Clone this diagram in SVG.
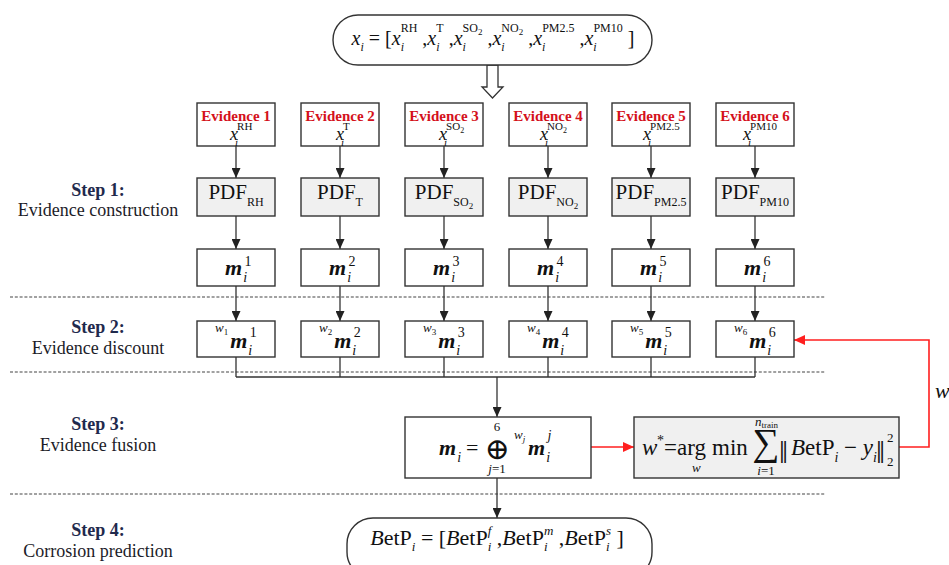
<svg xmlns="http://www.w3.org/2000/svg" width="949" height="565" viewBox="0 0 949 565">
<style>
.t{font-family:"Liberation Serif","DejaVu Serif",serif;fill:#111}
.it{font-style:italic}
.b{font-weight:bold}
.bi{font-weight:bold;font-style:italic}
.box{fill:#fff;stroke:#333;stroke-width:1.4}
.gbox{fill:#f0f0f0;stroke:#333;stroke-width:1.4}
.ln{fill:none;stroke:#333;stroke-width:1.3}
.red{fill:none;stroke:#ff1f1f;stroke-width:1.6}
.dash{stroke:#444;stroke-width:1.2;stroke-dasharray:3,1.8}
.ev{font-family:"Liberation Serif","DejaVu Serif",serif;font-weight:bold;font-size:15px;fill:#d4111b}
.step{font-family:"Liberation Serif","DejaVu Serif",serif;font-weight:bold;font-size:18px;fill:#1f2a4d}
.desc{font-family:"Liberation Serif","DejaVu Serif",serif;font-size:18px;fill:#1c1c28}
</style>
<defs>
<marker id="ah" viewBox="0 0 10 9" refX="10" refY="4.5" markerWidth="10" markerHeight="9" markerUnits="userSpaceOnUse" orient="auto"><path d="M0,0 L10,4.5 L0,9 z" fill="#222"/></marker>
<marker id="ahr" viewBox="0 0 11 10" refX="11" refY="5" markerWidth="11" markerHeight="10" markerUnits="userSpaceOnUse" orient="auto"><path d="M0,0 L11,5 L0,10 z" fill="#ff1f1f"/></marker>
</defs>
<rect width="949" height="565" fill="#fff"/>

<!-- step labels -->
<g id="steps">
<text class="step" x="98" y="196" text-anchor="middle">Step 1:</text>
<text class="desc" x="98" y="216" text-anchor="middle">Evidence construction</text>
<text class="step" x="98" y="333" text-anchor="middle">Step 2:</text>
<text class="desc" x="98" y="354" text-anchor="middle">Evidence discount</text>
<text class="step" x="98" y="430" text-anchor="middle">Step 3:</text>
<text class="desc" x="98" y="451" text-anchor="middle">Evidence fusion</text>
<text class="step" x="98" y="536" text-anchor="middle">Step 4:</text>
<text class="desc" x="98" y="557" text-anchor="middle">Corrosion prediction</text>
</g>

<!-- dashed separators -->
<g id="separators">
<line class="dash" x1="10" y1="297" x2="825" y2="297"/>
<line class="dash" x1="10" y1="372" x2="825" y2="372"/>
<line class="dash" x1="10" y1="494" x2="825" y2="494"/>
</g>

<!-- connectors -->
<g id="connectors">
<polygon points="487,65 498,65 498,87 503,87 492.5,98 482,87 487,87" fill="#fff" stroke="#333" stroke-width="1.3"/>
<line class="ln" x1="236" y1="146" x2="236" y2="178" marker-end="url(#ah)"/>
<line class="ln" x1="340" y1="146" x2="340" y2="178" marker-end="url(#ah)"/>
<line class="ln" x1="444" y1="146" x2="444" y2="178" marker-end="url(#ah)"/>
<line class="ln" x1="548" y1="146" x2="548" y2="178" marker-end="url(#ah)"/>
<line class="ln" x1="651" y1="146" x2="651" y2="178" marker-end="url(#ah)"/>
<line class="ln" x1="755" y1="146" x2="755" y2="178" marker-end="url(#ah)"/>
<line class="ln" x1="236" y1="216" x2="236" y2="249" marker-end="url(#ah)"/>
<line class="ln" x1="340" y1="216" x2="340" y2="249" marker-end="url(#ah)"/>
<line class="ln" x1="444" y1="216" x2="444" y2="249" marker-end="url(#ah)"/>
<line class="ln" x1="548" y1="216" x2="548" y2="249" marker-end="url(#ah)"/>
<line class="ln" x1="651" y1="216" x2="651" y2="249" marker-end="url(#ah)"/>
<line class="ln" x1="755" y1="216" x2="755" y2="249" marker-end="url(#ah)"/>
<line class="ln" x1="236" y1="286" x2="236" y2="321" marker-end="url(#ah)"/>
<line class="ln" x1="340" y1="286" x2="340" y2="321" marker-end="url(#ah)"/>
<line class="ln" x1="444" y1="286" x2="444" y2="321" marker-end="url(#ah)"/>
<line class="ln" x1="548" y1="286" x2="548" y2="321" marker-end="url(#ah)"/>
<line class="ln" x1="651" y1="286" x2="651" y2="321" marker-end="url(#ah)"/>
<line class="ln" x1="755" y1="286" x2="755" y2="321" marker-end="url(#ah)"/>
<path class="ln" d="M236,357 V377 M340,357 V377 M444,357 V377 M548,357 V377 M651,357 V377 M755,357 V377 M236,377 H755"/>
<line class="ln" x1="497" y1="377" x2="497" y2="417" marker-end="url(#ah)"/>
<line class="ln" x1="497" y1="478" x2="497" y2="518" marker-end="url(#ah)"/>
<line class="red" x1="591" y1="447" x2="634" y2="447" marker-end="url(#ahr)"/>
<polyline class="red" points="899,447 929,447 929,340 794,340" marker-end="url(#ahr)"/>
<text class="t it" x="935" y="398" font-size="22">w</text>
</g>

<!-- input -->
<g id="input">
<rect class="box" x="333" y="15" width="319" height="50" rx="25"/>
<text class="t" x="493" y="45" text-anchor="middle" font-size="20"><tspan class="it">x</tspan><tspan class="it" dy="6" font-size="12">i</tspan><tspan dy="-6"> = [</tspan><tspan class="it">x</tspan><tspan class="it" dy="6" font-size="12">i</tspan><tspan dy="-19" dx="-3.3" font-size="12">RH</tspan><tspan dy="13"> ,</tspan><tspan class="it">x</tspan><tspan class="it" dy="6" font-size="12">i</tspan><tspan dy="-19" dx="-3.3" font-size="12">T</tspan><tspan dy="13"> ,</tspan><tspan class="it">x</tspan><tspan class="it" dy="6" font-size="12">i</tspan><tspan dy="-19" dx="-3.3" font-size="12">SO</tspan><tspan dy="3" font-size="9">2</tspan><tspan dy="10"> ,</tspan><tspan class="it">x</tspan><tspan class="it" dy="6" font-size="12">i</tspan><tspan dy="-19" dx="-3.3" font-size="12">NO</tspan><tspan dy="3" font-size="9">2</tspan><tspan dy="10"> ,</tspan><tspan class="it">x</tspan><tspan class="it" dy="6" font-size="12">i</tspan><tspan dy="-19" dx="-3.3" font-size="12">PM2.5</tspan><tspan dy="13"> ,</tspan><tspan class="it">x</tspan><tspan class="it" dy="6" font-size="12">i</tspan><tspan dy="-19" dx="-3.3" font-size="12">PM10</tspan><tspan dy="13"> ]</tspan></text>
</g>

<!-- evidence nodes -->
<g id="ev1"><rect class="box" x="197" y="103" width="78" height="43"/><text class="ev" x="236" y="121" text-anchor="middle">Evidence 1</text><text class="t" x="230" y="140" font-size="18"><tspan class="it">x</tspan><tspan class="it" y="146" dx="-3" font-size="11">i</tspan><tspan y="130" dx="-1" font-size="11">RH</tspan></text></g>
<g id="ev2"><rect class="box" x="301" y="103" width="78" height="43"/><text class="ev" x="340" y="121" text-anchor="middle">Evidence 2</text><text class="t" x="336" y="140" font-size="18"><tspan class="it">x</tspan><tspan class="it" y="146" dx="-3" font-size="11">i</tspan><tspan y="130" dx="-1" font-size="11">T</tspan></text></g>
<g id="ev3"><rect class="box" x="405" y="103" width="78" height="43"/><text class="ev" x="444" y="121" text-anchor="middle">Evidence 3</text><text class="t" x="439" y="140" font-size="18"><tspan class="it">x</tspan><tspan class="it" y="146" dx="-3" font-size="11">i</tspan><tspan y="130" dx="-1" font-size="11">SO</tspan><tspan y="133" font-size="8">2</tspan></text></g>
<g id="ev4"><rect class="box" x="509" y="103" width="78" height="43"/><text class="ev" x="548" y="121" text-anchor="middle">Evidence 4</text><text class="t" x="540" y="140" font-size="18"><tspan class="it">x</tspan><tspan class="it" y="146" dx="-3" font-size="11">i</tspan><tspan y="130" dx="-1" font-size="11">NO</tspan><tspan y="133" font-size="8">2</tspan></text></g>
<g id="ev5"><rect class="box" x="612" y="103" width="78" height="43"/><text class="ev" x="651" y="121" text-anchor="middle">Evidence 5</text><text class="t" x="643" y="140" font-size="18"><tspan class="it">x</tspan><tspan class="it" y="146" dx="-3" font-size="11">i</tspan><tspan y="130" dx="-1" font-size="11">PM2.5</tspan></text></g>
<g id="ev6"><rect class="box" x="716" y="103" width="78" height="43"/><text class="ev" x="755" y="121" text-anchor="middle">Evidence 6</text><text class="t" x="743" y="140" font-size="18"><tspan class="it">x</tspan><tspan class="it" y="146" dx="-3" font-size="11">i</tspan><tspan y="130" dx="-1" font-size="11">PM10</tspan></text></g>

<!-- PDF nodes -->
<g id="pdf1"><rect class="gbox" x="197" y="178" width="78" height="38"/><text class="t" x="236" y="199" text-anchor="middle" font-size="21">PDF<tspan dy="7" font-size="12">RH</tspan></text></g>
<g id="pdf2"><rect class="gbox" x="301" y="178" width="78" height="38"/><text class="t" x="340" y="199" text-anchor="middle" font-size="21">PDF<tspan dy="7" font-size="12">T</tspan></text></g>
<g id="pdf3"><rect class="gbox" x="405" y="178" width="78" height="38"/><text class="t" x="444" y="199" text-anchor="middle" font-size="21">PDF<tspan dy="7" font-size="12">SO</tspan><tspan dy="3" font-size="9">2</tspan></text></g>
<g id="pdf4"><rect class="gbox" x="509" y="178" width="78" height="38"/><text class="t" x="548" y="199" text-anchor="middle" font-size="21">PDF<tspan dy="7" font-size="12">NO</tspan><tspan dy="3" font-size="9">2</tspan></text></g>
<g id="pdf5"><rect class="gbox" x="612" y="178" width="78" height="38"/><text class="t" x="651" y="199" text-anchor="middle" font-size="21">PDF<tspan dy="7" font-size="12">PM2.5</tspan></text></g>
<g id="pdf6"><rect class="gbox" x="716" y="178" width="78" height="38"/><text class="t" x="755" y="199" text-anchor="middle" font-size="21">PDF<tspan dy="7" font-size="12">PM10</tspan></text></g>

<!-- mass nodes -->
<g id="m1"><rect class="box" x="197" y="249" width="78" height="37"/><text class="t" x="225" y="275" font-size="22"><tspan class="bi">m</tspan><tspan class="it" y="282" dx="1" font-size="14">i</tspan><tspan y="266" dx="-2.5" font-size="14">1</tspan></text></g>
<g id="m2"><rect class="box" x="301" y="249" width="78" height="37"/><text class="t" x="329" y="275" font-size="22"><tspan class="bi">m</tspan><tspan class="it" y="282" dx="1" font-size="14">i</tspan><tspan y="266" dx="-2.5" font-size="14">2</tspan></text></g>
<g id="m3"><rect class="box" x="405" y="249" width="78" height="37"/><text class="t" x="433" y="275" font-size="22"><tspan class="bi">m</tspan><tspan class="it" y="282" dx="1" font-size="14">i</tspan><tspan y="266" dx="-2.5" font-size="14">3</tspan></text></g>
<g id="m4"><rect class="box" x="509" y="249" width="78" height="37"/><text class="t" x="537" y="275" font-size="22"><tspan class="bi">m</tspan><tspan class="it" y="282" dx="1" font-size="14">i</tspan><tspan y="266" dx="-2.5" font-size="14">4</tspan></text></g>
<g id="m5"><rect class="box" x="612" y="249" width="78" height="37"/><text class="t" x="640" y="275" font-size="22"><tspan class="bi">m</tspan><tspan class="it" y="282" dx="1" font-size="14">i</tspan><tspan y="266" dx="-2.5" font-size="14">5</tspan></text></g>
<g id="m6"><rect class="box" x="716" y="249" width="78" height="37"/><text class="t" x="744" y="275" font-size="22"><tspan class="bi">m</tspan><tspan class="it" y="282" dx="1" font-size="14">i</tspan><tspan y="266" dx="-2.5" font-size="14">6</tspan></text></g>

<!-- discounted nodes -->
<g id="d1"><rect class="box" x="197" y="321" width="78" height="36"/><text class="t" x="215" y="332" font-size="13"><tspan class="it">w</tspan><tspan y="335" font-size="9">1</tspan><tspan class="bi" y="348" dx="2" font-size="22">m</tspan><tspan class="it" y="355" dx="1" font-size="14">i</tspan><tspan y="337" dx="-2.5" font-size="14">1</tspan></text></g>
<g id="d2"><rect class="box" x="301" y="321" width="78" height="36"/><text class="t" x="319" y="332" font-size="13"><tspan class="it">w</tspan><tspan y="335" font-size="9">2</tspan><tspan class="bi" y="348" dx="2" font-size="22">m</tspan><tspan class="it" y="355" dx="1" font-size="14">i</tspan><tspan y="337" dx="-2.5" font-size="14">2</tspan></text></g>
<g id="d3"><rect class="box" x="405" y="321" width="78" height="36"/><text class="t" x="423" y="332" font-size="13"><tspan class="it">w</tspan><tspan y="335" font-size="9">3</tspan><tspan class="bi" y="348" dx="2" font-size="22">m</tspan><tspan class="it" y="355" dx="1" font-size="14">i</tspan><tspan y="337" dx="-2.5" font-size="14">3</tspan></text></g>
<g id="d4"><rect class="box" x="509" y="321" width="78" height="36"/><text class="t" x="527" y="332" font-size="13"><tspan class="it">w</tspan><tspan y="335" font-size="9">4</tspan><tspan class="bi" y="348" dx="2" font-size="22">m</tspan><tspan class="it" y="355" dx="1" font-size="14">i</tspan><tspan y="337" dx="-2.5" font-size="14">4</tspan></text></g>
<g id="d5"><rect class="box" x="612" y="321" width="78" height="36"/><text class="t" x="630" y="332" font-size="13"><tspan class="it">w</tspan><tspan y="335" font-size="9">5</tspan><tspan class="bi" y="348" dx="2" font-size="22">m</tspan><tspan class="it" y="355" dx="1" font-size="14">i</tspan><tspan y="337" dx="-2.5" font-size="14">5</tspan></text></g>
<g id="d6"><rect class="box" x="716" y="321" width="78" height="36"/><text class="t" x="734" y="332" font-size="13"><tspan class="it">w</tspan><tspan y="335" font-size="9">6</tspan><tspan class="bi" y="348" dx="2" font-size="22">m</tspan><tspan class="it" y="355" dx="1" font-size="14">i</tspan><tspan y="337" dx="-2.5" font-size="14">6</tspan></text></g>

<!-- fusion node -->
<g id="fusion">
<rect class="box" x="405" y="417" width="186" height="61"/>
<text class="t" x="439" y="455" font-size="22"><tspan class="bi">m</tspan><tspan class="it" y="462" dx="1" font-size="14">i</tspan><tspan y="455" dx="5">=</tspan></text>
<text class="t" x="497" y="459" text-anchor="middle" font-size="30" font-family="DejaVu Serif, serif">⊕</text>
<text class="t" x="497" y="431" text-anchor="middle" font-size="13">6</text>
<text class="t" x="497" y="473" text-anchor="middle" font-size="13"><tspan class="it">j</tspan>=1</text>
<text class="t" x="514" y="439" font-size="13"><tspan class="it">w</tspan><tspan class="it" y="442" font-size="9">j</tspan></text>
<text class="t" x="528" y="455" font-size="22"><tspan class="bi">m</tspan><tspan class="it" y="462" dx="1" font-size="14">i</tspan><tspan class="it" y="440" dx="-2.5" font-size="14">j</tspan></text>
</g>

<!-- optimisation node -->
<g id="optim">
<rect class="gbox" x="634" y="417" width="265" height="61"/>
<text class="t it" x="642" y="455" font-size="23">w</text>
<text class="t" x="657" y="445" font-size="14">*</text>
<text class="t" x="664" y="455" font-size="23">=</text>
<text class="t" x="677" y="455" font-size="23">arg</text>
<text class="t it" x="692" y="472" font-size="13">w</text>
<text class="t" x="712" y="455" font-size="23">min</text>
<text class="t" x="766" y="455" text-anchor="middle" font-size="38">∑</text>
<text class="t" x="755" y="426" font-size="13"><tspan class="it">n</tspan><tspan y="428" font-size="9">train</tspan></text>
<text class="t" x="766" y="475" text-anchor="middle" font-size="13"><tspan class="it">i</tspan>=1</text>
<text class="t" x="779" y="463" font-size="32" font-family="DejaVu Serif, serif">‖</text>
<text class="t" x="791" y="455" font-size="23"><tspan class="it">B</tspan>etP<tspan class="it" y="462" font-size="14">i</tspan><tspan y="455"> − </tspan><tspan class="it">y</tspan><tspan class="it" y="462" font-size="14">i</tspan></text>
<text class="t" x="876" y="463" font-size="32" font-family="DejaVu Serif, serif">‖</text>
<text class="t" x="887" y="442" font-size="13">2</text>
<text class="t" x="887" y="466" font-size="13">2</text>
</g>

<!-- output -->
<g id="output">
<rect class="box" x="347" y="518" width="305" height="60" rx="26"/>
<text class="t" x="497" y="545" text-anchor="middle" font-size="22"><tspan class="it">B</tspan>etP<tspan class="it" dy="6" font-size="13">i</tspan><tspan dy="-6"> = [</tspan><tspan class="it">B</tspan>etP<tspan class="it" dy="6" font-size="13">i</tspan><tspan class="it" dy="-16" dx="-3.6" font-size="13">f</tspan><tspan dy="10"> ,</tspan><tspan class="it">B</tspan>etP<tspan class="it" dy="6" font-size="13">i</tspan><tspan class="it" dy="-16" dx="-3.6" font-size="13">m</tspan><tspan dy="10"> ,</tspan><tspan class="it">B</tspan>etP<tspan class="it" dy="6" font-size="13">i</tspan><tspan class="it" dy="-16" dx="-3.6" font-size="13">s</tspan><tspan dy="10"> ]</tspan></text>
</g>
</svg>
